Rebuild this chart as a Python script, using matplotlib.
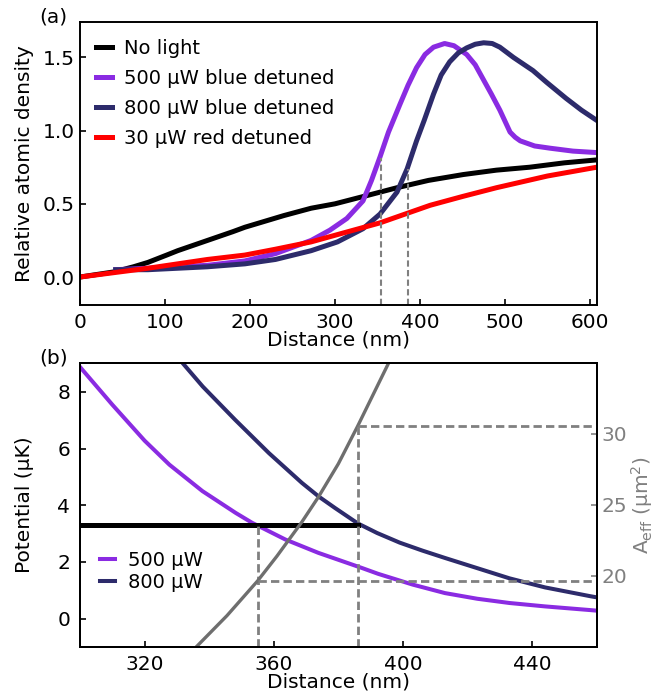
import matplotlib

matplotlib.use("Agg")
import matplotlib.pyplot as plt

# ---- panel (a): relative atomic density vs distance ----
dist_black = [0, 40, 63, 80, 102, 115, 150, 180, 194, 240, 272, 300, 340, 373, 410, 451, 490, 529, 570, 608]
dens_black = [0.0, 0.035, 0.07, 0.10, 0.15, 0.18, 0.25, 0.31, 0.34, 0.42, 0.47, 0.50, 0.56, 0.61, 0.66, 0.70,
              0.73, 0.75, 0.78, 0.80]

dist_500 = [42, 80, 115, 150, 194, 230, 272, 294, 314, 333, 343, 353, 363, 376.5, 386, 396, 406, 416, 429,
            440, 455, 465, 474.5, 484, 494, 506, 512, 518, 535, 553, 580, 608]
dens_500 = [0.05, 0.06, 0.07, 0.08, 0.11, 0.16, 0.25, 0.32, 0.40, 0.52, 0.66, 0.82, 0.99, 1.18, 1.31, 1.43,
            1.52, 1.57, 1.595, 1.58, 1.52, 1.45, 1.35, 1.25, 1.14, 0.99, 0.955, 0.93, 0.895, 0.88, 0.86, 0.85]

dist_800 = [42, 80, 115, 150, 194, 230, 272, 303, 333, 353, 373, 385, 396, 405, 416, 425, 435, 445, 455,
            465, 475, 485, 494, 510, 533, 549, 572, 590, 608]
dens_800 = [0.05, 0.05, 0.06, 0.07, 0.09, 0.12, 0.18, 0.24, 0.33, 0.43, 0.58, 0.74, 0.93, 1.07, 1.25, 1.38,
            1.47, 1.53, 1.565, 1.59, 1.60, 1.595, 1.57, 1.50, 1.41, 1.33, 1.22, 1.14, 1.07]

dist_red = [0, 40, 80, 115, 150, 194, 230, 272, 303, 353, 412, 450, 490, 550, 608]
dens_red = [0.0, 0.03, 0.06, 0.09, 0.12, 0.15, 0.19, 0.24, 0.29, 0.37, 0.49, 0.55, 0.61, 0.69, 0.75]

labels_a = ["No light", "500 µW blue detuned", "800 µW blue detuned", "30 µW red detuned"]
marks_a_x = [354, 386]
marks_a_y = [0.81, 0.74]

# ---- panel (b): potential and effective area vs distance ----
dist_p500 = [300, 310, 320, 327.7, 337.9, 348.2, 353.3, 363.6, 373.8, 387.2, 392.3, 403, 413, 423, 433, 444,
             458, 460]
pot_500 = [8.88, 7.55, 6.28, 5.43, 4.50, 3.73, 3.38, 2.79, 2.32, 1.79, 1.58, 1.20, 0.90, 0.70, 0.55, 0.43,
           0.30, 0.28]

dist_p800 = [331, 338, 348, 358.5, 368.7, 374, 379, 386, 392, 399, 406, 413, 423, 433, 444, 458, 460]
pot_800 = [9.12, 8.19, 7.02, 5.84, 4.79, 4.30, 3.90, 3.36, 3.02, 2.68, 2.40, 2.14, 1.78, 1.42, 1.10, 0.79, 0.75]

dist_aeff = [336, 345.5, 355, 361, 368.7, 373.8, 380, 386, 396]
aeff = [15.0, 17.2, 19.65, 21.4, 23.8, 25.55, 27.9, 30.56, 35.2]

trap_depth = 3.3
cross_500, cross_800 = 355, 386
aeff_500, aeff_800 = 19.65, 30.56

PURPLE = "#8a2be2"
NAVY = "#2d2b6b"
GREY = "#808080"
FS = 14.5
FS_LEG = 14

plt.rcParams["font.family"] = "DejaVu Sans"
plt.rcParams["font.size"] = FS
plt.rcParams["axes.linewidth"] = 1.4

fig = plt.figure(figsize=(6.72, 6.96), dpi=100)
ax1 = fig.add_axes([0.119, 0.562, 0.769, 0.406])
ax2 = fig.add_axes([0.119, 0.0705, 0.769, 0.408])

# panel (a)
ax1.plot(dist_black, dens_black, color="black", lw=3.6, label=labels_a[0])
ax1.plot(dist_500, dens_500, color=PURPLE, lw=3.6, label=labels_a[1])
ax1.plot(dist_800, dens_800, color=NAVY, lw=3.6, label=labels_a[2])
ax1.plot(dist_red, dens_red, color="red", lw=3.6, label=labels_a[3])
ylo_a = -0.19
for x, y in zip(marks_a_x, marks_a_y):
    ax1.plot([x, x], [ylo_a, y], color=GREY, lw=1.5, ls=(0, (3, 1.6)))
ax1.set_xlim(0, 608)
ax1.set_ylim(ylo_a, 1.74)
ax1.set_xticks([0, 100, 200, 300, 400, 500, 600])
ax1.set_yticks([0, 0.5, 1.0, 1.5])
ax1.set_xlabel("Distance (nm)", labelpad=-1)
ax1.set_ylabel("Relative atomic density")
ax1.yaxis.set_label_coords(-0.088, 0.5)
ax1.tick_params(direction="in", length=4, width=1.2)
ax1.tick_params(axis="x", pad=6)
ax1.legend(loc="upper left", frameon=False, fontsize=FS_LEG, handlelength=0.82,
           handletextpad=0.6, labelspacing=0.57, borderaxespad=0.45, borderpad=0.4)

# panel (b)
ax2.plot(dist_p500, pot_500, color=PURPLE, lw=2.9, label="500 µW")
ax2.plot(dist_p800, pot_800, color=NAVY, lw=2.9, label="800 µW")
ax2.plot([300, cross_800], [trap_depth, trap_depth], color="black", lw=3.6)
ax2.plot([cross_500, cross_500], [-1, trap_depth], color=GREY, lw=2, ls=(0, (3, 1.5)))
ax2.set_xlim(300, 460)
ax2.set_ylim(-1, 9.02)
ax2.set_xticks([320, 360, 400, 440])
ax2.set_yticks([0, 2, 4, 6, 8])
ax2.set_xlabel("Distance (nm)", labelpad=-1)
ax2.set_ylabel("Potential (µK)")
ax2.yaxis.set_label_coords(-0.088, 0.5)
ax2.tick_params(direction="in", length=4, width=1.2)
ax2.tick_params(axis="x", pad=6)
ax2.tick_params(axis="y", pad=7)
ax2.legend(loc="center left", bbox_to_anchor=(0.023, 0.266), borderaxespad=0, frameon=False,
           fontsize=FS_LEG, handlelength=0.77, handletextpad=0.67, labelspacing=0.12)

axr = ax2.twinx()
axr.plot(dist_aeff, aeff, color="#6e6e6e", lw=2.4)
axr.plot([cross_500, 460], [aeff_500, aeff_500], color=GREY, lw=2, ls=(0, (3, 1.5)))
axr.plot([cross_800, 460], [aeff_800, aeff_800], color=GREY, lw=2, ls=(0, (3, 1.5)))
axr.plot([cross_800, cross_800], [15, aeff_800], color=GREY, lw=2, ls=(0, (3, 1.5)))
axr.set_ylim(15, 35)
axr.set_yticks([20, 25, 30])
axr.set_ylabel(r"$\mathrm{A_{eff}}$ (µm$^2$)", color=GREY, labelpad=1)
axr.tick_params(direction="in", length=4, width=1.2, colors=GREY, labelcolor=GREY)
for sp in axr.spines.values():
    sp.set_color("black")

fig.text(0.059, 0.975, "(a)", ha="left", va="center", fontsize=FS)
fig.text(0.059, 0.486, "(b)", ha="left", va="center", fontsize=FS)

fig.savefig("out.png", dpi=100)
